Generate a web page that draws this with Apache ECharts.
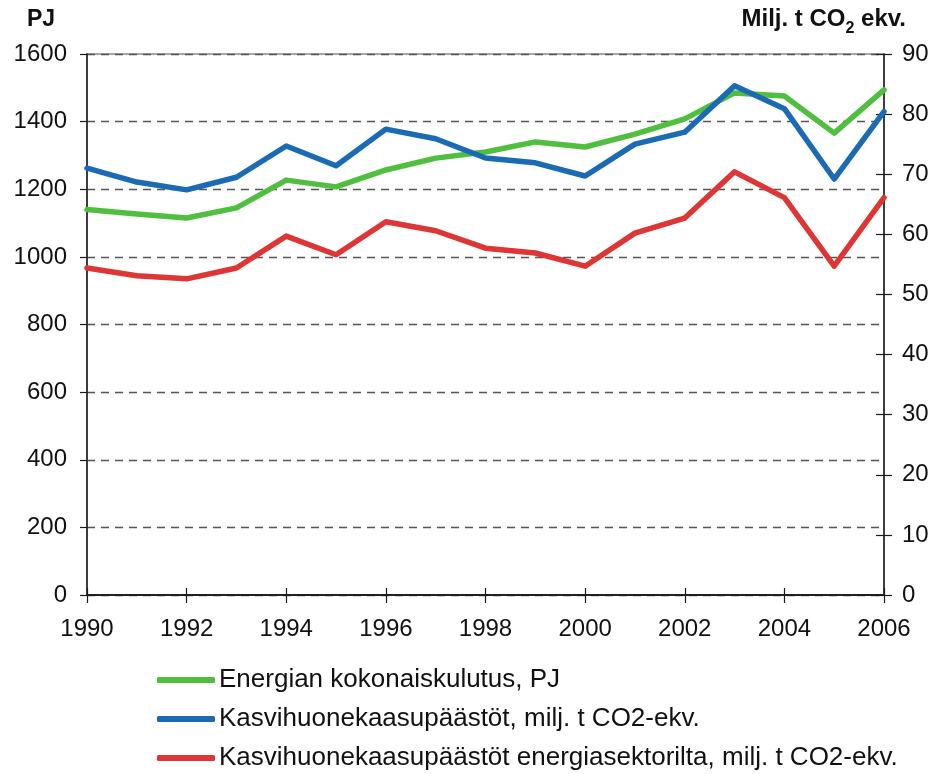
<!DOCTYPE html>
<html>
<head>
<meta charset="utf-8">
<script src="https://cdn.jsdelivr.net/npm/echarts@6/dist/echarts.min.js"></script>
<style>
  html, body { margin: 0; padding: 0; background: #fff; }
  #chart { width: 936px; height: 774px; }
</style>
</head>
<body>
<div id="chart"></div>
<script>
// Years on the horizontal axis
const years = ['1990','1991','1992','1993','1994','1995','1996','1997','1998','1999','2000','2001','2002','2003','2004','2005','2006'];

// Total energy consumption, PJ (left axis)
const energyPJ = [1140, 1127, 1115, 1145, 1227, 1207, 1257, 1292, 1310, 1340, 1325, 1363, 1408, 1485, 1476, 1366, 1494];

// Greenhouse gas emissions, Mt CO2-eq. (right axis)
const ghgTotal = [71.0, 68.7, 67.4, 69.5, 74.7, 71.4, 77.5, 75.9, 72.7, 71.9, 69.7, 75.0, 77.0, 84.7, 80.9, 69.2, 80.4];

// Greenhouse gas emissions from the energy sector, Mt CO2-eq. (right axis)
const ghgEnergy = [54.4, 53.1, 52.6, 54.4, 59.7, 56.6, 62.1, 60.6, 57.7, 56.9, 54.7, 60.2, 62.7, 70.4, 66.1, 54.7, 66.1];

const seriesNames = [
  'Energian kokonaiskulutus, PJ',
  'Kasvihuonekaasupäästöt, milj. t CO2-ekv.',
  'Kasvihuonekaasupäästöt energiasektorilta, milj. t CO2-ekv.'
];
const colors = ['#50BF3F', '#1A6AB4', '#DE3535'];

const FONT = '"Liberation Sans", Arial, sans-serif';
const axisColor = '#1a1a1a';

const chart = echarts.init(document.getElementById('chart'));

const baseX = {
  type: 'category',
  data: years,
  boundaryGap: false,
  axisLine: { lineStyle: { color: axisColor, width: 1.5 } },
  splitLine: { show: false }
};

const plain = v => String(v);

chart.setOption({
  backgroundColor: '#ffffff',
  animation: false,
  color: colors,
  textStyle: { fontFamily: FONT },
  grid: {
    left: 87, right: 52, top: 54, bottom: 179,
    show: true, borderColor: '#8a8a8a', borderWidth: 1.5, backgroundColor: 'transparent'
  },
  legend: {
    orient: 'vertical',
    left: 152,
    top: 662,
    height: 120,
    itemWidth: 58,
    itemHeight: 6,
    itemGap: 13,
    icon: 'roundRect',
    data: seriesNames,
    textStyle: { fontFamily: FONT, fontSize: 26, color: '#111', padding: [0, 0, 0, -1] }
  },
  graphic: [
    {
      type: 'text', left: 27, top: 8,
      style: { text: 'PJ', font: 'bold 23px ' + FONT, fill: '#111' }
    },
    {
      type: 'text', right: 30, top: 7,
      style: {
        text: '{a|Milj. t CO}{b|2}{a| ekv.}',
        rich: {
          a: { font: 'bold 24px ' + FONT, fill: '#111', verticalAlign: 'bottom' },
          b: { font: 'bold 16px ' + FONT, fill: '#111', verticalAlign: 'bottom', padding: [0, 0, -6, 0] }
        }
      }
    }
  ],
  xAxis: [
    Object.assign({}, baseX, {
      axisTick: { show: true, interval: 1, length: 8, lineStyle: { color: axisColor, width: 1.2 } },
      axisLabel: { interval: 1, margin: 22, fontSize: 24, color: '#111', fontFamily: FONT }
    }),
    Object.assign({}, baseX, {
      gridIndex: 0,
      position: 'bottom',
      axisTick: { show: true, inside: true, interval: 1, length: 7, lineStyle: { color: axisColor, width: 1.2 } },
      axisLabel: { show: false }
    })
  ],
  yAxis: [
    {
      type: 'value', min: 0, max: 1600, interval: 200, position: 'left',
      axisLine: { show: true, lineStyle: { color: axisColor, width: 1.5 } },
      axisTick: { show: true, length: 7, lineStyle: { color: axisColor, width: 1.2 } },
      axisLabel: { margin: 20, fontSize: 24, color: '#111', fontFamily: FONT, formatter: plain },
      splitLine: { show: true, lineStyle: { color: '#555', type: [8, 6], width: 1.3 } }
    },
    {
      type: 'value', min: 0, max: 90, interval: 10, position: 'right',
      axisLine: { show: true, lineStyle: { color: axisColor, width: 1.5 } },
      axisTick: { show: true, length: 8, lineStyle: { color: axisColor, width: 1.2 } },
      axisLabel: { margin: 18, fontSize: 24, color: '#111', fontFamily: FONT, formatter: plain },
      splitLine: { show: false }
    },
    {
      type: 'value', min: 0, max: 90, interval: 10, position: 'right',
      axisLine: { show: false },
      axisTick: { show: true, inside: true, length: 8, lineStyle: { color: axisColor, width: 1.2 } },
      axisLabel: { show: false },
      splitLine: { show: false }
    }
  ],
  series: [
    {
      name: seriesNames[0], type: 'line', yAxisIndex: 0, data: energyPJ,
      showSymbol: false, lineStyle: { width: 5.5, cap: 'round', join: 'round' }, z: 3
    },
    {
      name: seriesNames[1], type: 'line', yAxisIndex: 1, data: ghgTotal,
      showSymbol: false, lineStyle: { width: 5.5, cap: 'round', join: 'round' }, z: 4
    },
    {
      name: seriesNames[2], type: 'line', yAxisIndex: 1, data: ghgEnergy,
      showSymbol: false, lineStyle: { width: 5.5, cap: 'round', join: 'round' }, z: 3
    }
  ]
});
</script>
</body>
</html>
